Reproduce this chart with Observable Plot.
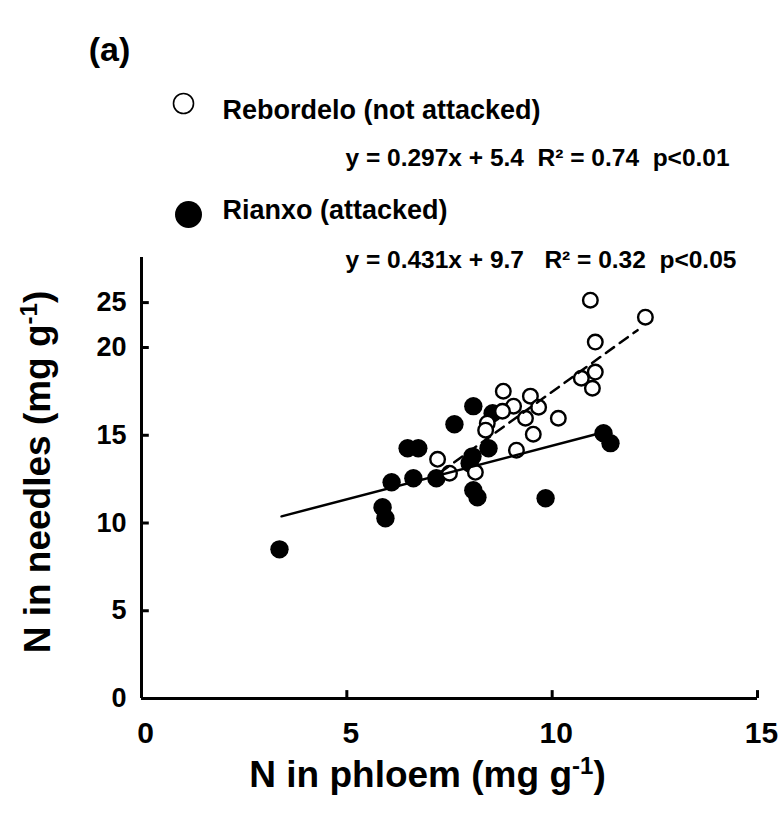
<!DOCTYPE html>
<html>
<head>
<meta charset="utf-8">
<script src="https://cdn.jsdelivr.net/npm/d3@7"></script>
<script src="https://cdn.jsdelivr.net/npm/@observablehq/plot@0.6"></script>
<style>
  html, body { margin: 0; padding: 0; background: #fff; }
  #chart svg { display: block; }
</style>
</head>
<body>
<div id="chart"></div>
<script>
// ---- Data ----
// Rebordelo (not attacked) - open circles
const rebordeloX = [10.93, 12.27, 11.05, 11.05, 10.71, 10.98, 8.81, 9.47, 9.06, 8.79, 9.67, 9.35, 10.15, 8.42, 8.38, 9.54, 9.13, 7.21, 7.50, 8.13];
const rebordeloY = [22.70, 21.73, 20.31, 18.60, 18.25, 17.68, 17.51, 17.23, 16.66, 16.37, 16.60, 15.97, 15.97, 15.69, 15.29, 15.06, 14.15, 13.63, 12.84, 12.89];
// Rianxo (attacked) - filled circles
const rianxoX = [3.36, 5.87, 5.94, 6.09, 6.48, 6.74, 6.62, 7.18, 7.62, 8.08, 8.55, 8.45, 8.06, 7.99, 8.08, 8.18, 9.84, 11.25, 11.42];
const rianxoY = [8.50, 10.90, 10.27, 12.32, 14.26, 14.26, 12.55, 12.55, 15.63, 16.66, 16.26, 14.26, 13.80, 13.41, 11.87, 11.47, 11.41, 15.12, 14.55];
// Fitted lines as drawn (end points)
const rebordeloLineX = [7.28, 12.08];
const rebordeloLineY = [12.89, 20.99];
const rianxoLineX = [3.41, 11.25];
const rianxoLineY = [10.38, 15.17];
// Axes
const xTickValues = [0, 5, 10, 15];
const xTickLabels = ["0", "5", "10", "15"];
const yTickValues = [0, 5, 10, 15, 20, 22.56];
const yTickLabels = ["0", "5", "10", "15", "20", "25"];
const xDomain = [0, 15];
const yDomain = [0, 25.13];
// Texts
const panelLabel = "(a)";
const seriesNames = ["Rebordelo (not attacked)", "Rianxo (attacked)"];
const equations = ["y = 0.297x + 5.4  R\u00B2 = 0.74  p<0.01", "y = 0.431x + 9.7   R\u00B2 = 0.32  p<0.05"];
const xTitle = "N in phloem (mg g{-1})";
const yTitle = "N in needles (mg g{-1})";

// ---- Build tables ----
const rebordelo = rebordeloX.map((x, i) => ({x, y: rebordeloY[i]}));
const rianxo = rianxoX.map((x, i) => ({x, y: rianxoY[i]}));
const rebordeloLine = rebordeloLineX.map((x, i) => ({x, y: rebordeloLineY[i]}));
const rianxoLine = rianxoLineX.map((x, i) => ({x, y: rianxoLineY[i]}));
const xTicks = xTickValues.map((v, i) => ({v, label: xTickLabels[i]}));
const yTicks = yTickValues.map((v, i) => ({v, label: yTickLabels[i]}));

const FONT = "'Liberation Sans', Arial, Helvetica, sans-serif";
const txt = {fontWeight: "bold", fill: "#000", lineAnchor: "middle"};

const plot = Plot.plot({
  width: 784,
  height: 814,
  marginLeft: 141,
  marginRight: 27,
  marginTop: 257,
  marginBottom: 116,
  x: {domain: xDomain, axis: null},
  y: {domain: yDomain, axis: null},
  style: {fontFamily: FONT, fontWeight: "bold", color: "#000", background: "#fff"},
  marks: [
    // axis lines
    Plot.ruleY([0], {stroke: "#000", strokeWidth: 3}),
    Plot.ruleX([0], {stroke: "#000", strokeWidth: 3}),
    // inward ticks
    Plot.ruleX(xTicks.filter(d => d.v > 0), {x: "v", y1: 0, y2: 0.45, stroke: "#000", strokeWidth: 3}),
    Plot.ruleY(yTicks.filter(d => d.v > 0), {y: "v", x1: 0, x2: 0.19, stroke: "#000", strokeWidth: 3}),
    // tick labels
    Plot.text(xTicks, {...txt, x: "v", text: "label", frameAnchor: "bottom", textAnchor: "middle", dy: 35, dx: 4, fontSize: 30}),
    Plot.text(yTicks, {...txt, y: "v", text: "label", frameAnchor: "left", textAnchor: "end", dx: -15, fontSize: 27}),
    // axis titles
    Plot.text([xTitle], {...txt, frameAnchor: "bottom", textAnchor: "middle", dx: -22, dy: 77, fontSize: 37}),
    Plot.text([yTitle], {...txt, frameAnchor: "left", textAnchor: "middle", dx: -103, dy: -6, rotate: -90, fontSize: 37}),
    // data: filled, then open, then lines on top
    Plot.dot(rianxo, {x: "x", y: "y", r: 9.2, fill: "#000", stroke: "none"}),
    Plot.dot(rebordelo, {x: "x", y: "y", r: 7.3, fill: "#fff", stroke: "#000", strokeWidth: 2.4}),
    Plot.line(rianxoLine, {x: "x", y: "y", stroke: "#000", strokeWidth: 2.5}),
    Plot.line(rebordeloLine, {x: "x", y: "y", stroke: "#000", strokeWidth: 2.5, strokeDasharray: "10,7"}),
    // panel label and legend
    Plot.text([panelLabel], {...txt, frameAnchor: "top-left", textAnchor: "middle", dx: -32, dy: -207, fontSize: 34}),
    Plot.dot([seriesNames[0]], {frameAnchor: "top-left", dx: 42, dy: -154, r: 10, fill: "#fff", stroke: "#000", strokeWidth: 1.6}),
    Plot.dot([seriesNames[1]], {frameAnchor: "top-left", dx: 47, dy: -43, r: 13.5, fill: "#000", stroke: "none"}),
    Plot.text([seriesNames[0]], {...txt, frameAnchor: "top-left", textAnchor: "start", dx: 81, dy: -147, fontSize: 27}),
    Plot.text([equations[0]], {...txt, frameAnchor: "top-left", textAnchor: "start", dx: 204, dy: -99, fontSize: 24.5}),
    Plot.text([seriesNames[1]], {...txt, frameAnchor: "top-left", textAnchor: "start", dx: 81, dy: -47, fontSize: 27}),
    Plot.text([equations[1]], {...txt, frameAnchor: "top-left", textAnchor: "start", dx: 204, dy: 3, fontSize: 24.5})
  ]
});

// superscripts in axis titles: "{...}" -> raised tspan
d3.select(plot).selectAll("text").each(function () {
  const t = this.textContent;
  const m = t.match(/^(.*)\{([^}]*)\}(.*)$/);
  if (!m) return;
  const sel = d3.select(this);
  sel.text(null);
  sel.append("tspan").text(m[1]);
  sel.append("tspan").attr("baseline-shift", "super").attr("font-size", "65%").text(m[2]);
  sel.append("tspan").text(m[3]);
});

document.getElementById("chart").appendChild(plot);
</script>
</body>
</html>
